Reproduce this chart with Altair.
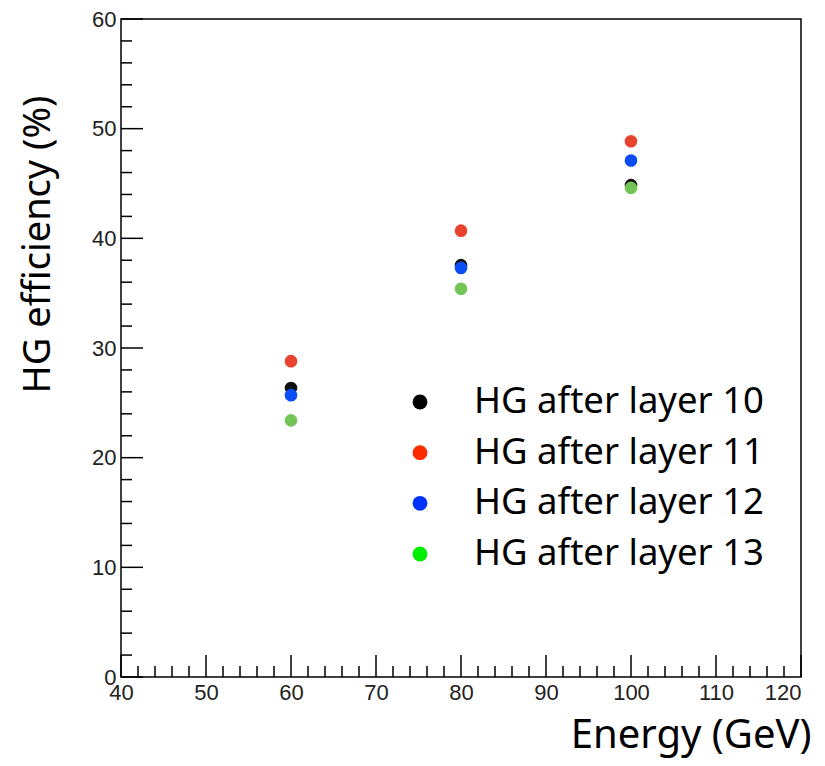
import altair as alt
import pandas as pd

# ---- data ----
energy = [60, 80, 100]
series = ["HG after layer 10", "HG after layer 11", "HG after layer 12", "HG after layer 13"]
eff_l10 = [26.35, 37.55, 44.85]
eff_l11 = [28.8, 40.7, 48.85]
eff_l12 = [25.7, 37.3, 47.1]
eff_l13 = [23.4, 35.4, 44.6]

x_major = [40, 50, 60, 70, 80, 90, 100, 110, 120]
x_minor = [42, 44, 46, 48, 52, 54, 56, 58, 62, 64, 66, 68, 72, 74, 76, 78,
           82, 84, 86, 88, 92, 94, 96, 98, 102, 104, 106, 108, 112, 114, 116, 118]
y_major = [0, 10, 20, 30, 40, 50, 60]
y_minor = [2, 4, 6, 8, 12, 14, 16, 18, 22, 24, 26, 28, 32, 34, 36, 38,
           42, 44, 46, 48, 52, 54, 56, 58]

# ---- styles ----
marker_colors = ["#111111", "#e8432e", "#0a4cf5", "#72c455"]
legend_colors = ["#000000", "#ff2a00", "#0033ff", "#00ee00"]
W, H = 680, 658

rows = []
for name, vals in zip(series, [eff_l10, eff_l11, eff_l12, eff_l13]):
    for e, v in zip(energy, vals):
        rows.append({"energy": e, "eff": v, "series": name})
df = pd.DataFrame(rows)

xs = alt.Scale(domain=[40, 120], nice=False, zero=False)
ys = alt.Scale(domain=[0, 60], nice=False, zero=False)

points = alt.Chart(df).mark_circle(size=160, opacity=1).encode(
    x=alt.X("energy:Q", scale=xs,
            axis=alt.Axis(values=x_major, title="Energy (GeV)", titleX=690, titleY=70,
                          titleFontSize=40,
                          labelAlign=alt.expr("datum.value == 120 ? 'right' : 'center'"),
                          titleAlign="right", titleBaseline="alphabetic", titleAnchor="end")),
    y=alt.Y("eff:Q", scale=ys,
            axis=alt.Axis(values=y_major, title="HG efficiency (%)", titleX=-83, titleY=76,
                          titleFontSize=38,
                          titleAngle=-90, titleAlign="right", titleBaseline="middle",
                          titleAnchor="end")),
    color=alt.Color("series:N", scale=alt.Scale(domain=series, range=marker_colors), legend=None),
)

xmaj = alt.Chart(pd.DataFrame({"v": x_major})).mark_rule(color="black", strokeWidth=1.5).encode(
    x=alt.X("v:Q", scale=xs), y=alt.value(H), y2=alt.value(H - 22))
xmin = alt.Chart(pd.DataFrame({"v": x_minor})).mark_rule(color="black", strokeWidth=1.5).encode(
    x=alt.X("v:Q", scale=xs), y=alt.value(H), y2=alt.value(H - 11))
ymaj = alt.Chart(pd.DataFrame({"v": y_major})).mark_rule(color="black", strokeWidth=1.5).encode(
    y=alt.Y("v:Q", scale=ys), x=alt.value(0), x2=alt.value(22))
ymin = alt.Chart(pd.DataFrame({"v": y_minor})).mark_rule(color="black", strokeWidth=1.5).encode(
    y=alt.Y("v:Q", scale=ys), x=alt.value(0), x2=alt.value(11))

main = alt.layer(points, xmaj, xmin, ymaj, ymin)

leg_df = pd.DataFrame({"series": series})
leg_y = alt.Y("series:N", scale=alt.Scale(type="point", domain=series, range=[383, 535], padding=0),
              axis=None)
leg_dots = alt.Chart(leg_df).mark_circle(size=220, opacity=1).encode(
    x=alt.value(299), y=leg_y,
    color=alt.Color("series:N", scale=alt.Scale(domain=series, range=legend_colors), legend=None))
leg_text = alt.Chart(leg_df).mark_text(align="left", baseline="middle", fontSize=36.5,
                                       font="Noto Sans", color="black").encode(
    x=alt.value(353), y=leg_y, text="series:N")
legend = alt.layer(leg_dots, leg_text)

chart = alt.layer(main, legend).resolve_scale(y="independent", color="independent").properties(
    width=W, height=H,
    background="white",
    autosize=alt.AutoSizeParams(type="none"),
    padding={"left": 113, "top": 11, "right": 16, "bottom": 81},
).configure_view(stroke="black", strokeWidth=1.5).configure_axis(
    domain=False, ticks=False, grid=False,
    labelFont="Liberation Sans", labelFontSize=22, labelColor="#222222", labelPadding=5,
    titleFont="Noto Sans", titleFontWeight="normal", titleColor="black",
    labelFlush=False, labelOverlap=False,
)

chart.save("out.html", embed_options={"renderer": "svg", "actions": False})
